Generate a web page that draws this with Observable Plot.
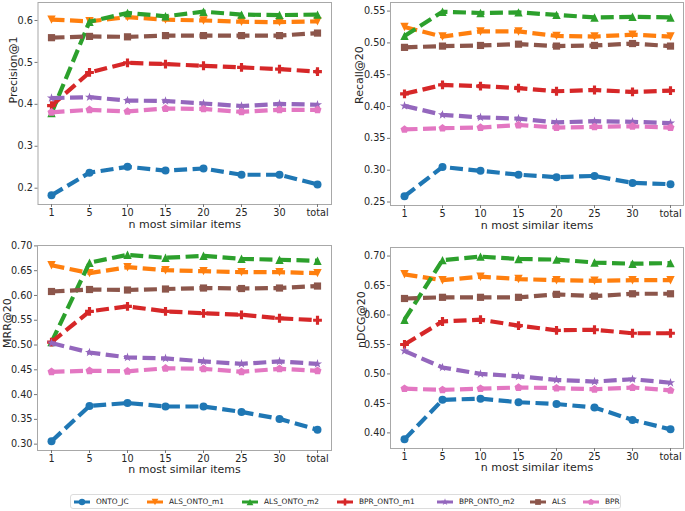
<!DOCTYPE html>
<html>
<head>
<meta charset="utf-8">
<script src="https://cdn.jsdelivr.net/npm/d3@7"></script>
<script src="https://cdn.jsdelivr.net/npm/@observablehq/plot@0.6"></script>
<style>
  html, body { margin: 0; padding: 0; background: #fff; }
  #wrap { position: relative; width: 685px; height: 511px; overflow: hidden; font-family: "DejaVu Sans", sans-serif; }
  .panel { position: absolute; }
  #legend { position: absolute; left: 70px; top: 494px; width: 551px; height: 15px; border: 1px solid #dcdcdc; border-radius: 3px; box-sizing: border-box; }
  .item { position: absolute; top: 0; height: 13px; display: flex; align-items: center; font-size: 7.4px; color: #222; white-space: nowrap; }
  .item svg { margin-right: 6px; }
</style>
</head>
<body>
<div id="wrap"></div>
<script>
// ---- data -------------------------------------------------------------
const categories = ["1", "5", "10", "15", "20", "25", "30", "total"];
const seriesNames = ["ONTO_JC", "ALS_ONTO_m1", "ALS_ONTO_m2", "BPR_ONTO_m1", "BPR_ONTO_m2", "ALS", "BPR"];
const seriesColors = ["#1f77b4", "#ff7f0e", "#2ca02c", "#d62728", "#9467bd", "#8c564b", "#e377c2"];

// rows follow seriesNames order, columns follow categories
const precisionAt1 = [
  [0.183, 0.237, 0.251, 0.242, 0.247, 0.232, 0.232, 0.209],
  [0.602, 0.598, 0.608, 0.602, 0.600, 0.597, 0.596, 0.598],
  [0.379, 0.597, 0.618, 0.610, 0.621, 0.614, 0.613, 0.614],
  [0.397, 0.476, 0.499, 0.496, 0.492, 0.488, 0.484, 0.478],
  [0.415, 0.417, 0.409, 0.408, 0.402, 0.396, 0.401, 0.399],
  [0.559, 0.562, 0.561, 0.564, 0.564, 0.564, 0.564, 0.570],
  [0.381, 0.387, 0.383, 0.390, 0.389, 0.382, 0.387, 0.387]
];
const recallAt20 = [
  [0.259, 0.305, 0.299, 0.293, 0.289, 0.291, 0.280, 0.278],
  [0.525, 0.510, 0.518, 0.518, 0.511, 0.510, 0.513, 0.510],
  [0.511, 0.549, 0.547, 0.548, 0.544, 0.540, 0.541, 0.540],
  [0.420, 0.434, 0.432, 0.429, 0.424, 0.426, 0.423, 0.425],
  [0.401, 0.387, 0.383, 0.381, 0.375, 0.377, 0.376, 0.374],
  [0.493, 0.495, 0.496, 0.498, 0.495, 0.496, 0.499, 0.495],
  [0.364, 0.366, 0.367, 0.371, 0.367, 0.368, 0.369, 0.367]
];
const mrrAt20 = [
  [0.306, 0.377, 0.383, 0.376, 0.376, 0.365, 0.351, 0.329],
  [0.661, 0.645, 0.657, 0.651, 0.649, 0.647, 0.647, 0.645],
  [0.506, 0.666, 0.682, 0.676, 0.680, 0.674, 0.672, 0.670],
  [0.506, 0.568, 0.578, 0.568, 0.564, 0.561, 0.554, 0.550],
  [0.504, 0.485, 0.475, 0.473, 0.467, 0.462, 0.467, 0.462],
  [0.608, 0.612, 0.611, 0.613, 0.615, 0.614, 0.615, 0.619],
  [0.446, 0.448, 0.447, 0.453, 0.452, 0.446, 0.452, 0.448]
];
const ndcgAt20 = [
  [0.389, 0.456, 0.458, 0.452, 0.449, 0.443, 0.422, 0.406],
  [0.669, 0.659, 0.665, 0.661, 0.659, 0.658, 0.659, 0.659],
  [0.592, 0.693, 0.699, 0.695, 0.694, 0.689, 0.687, 0.688],
  [0.550, 0.589, 0.592, 0.582, 0.574, 0.575, 0.569, 0.569],
  [0.539, 0.511, 0.500, 0.496, 0.490, 0.487, 0.491, 0.485],
  [0.628, 0.630, 0.630, 0.630, 0.635, 0.632, 0.636, 0.636],
  [0.475, 0.473, 0.475, 0.477, 0.476, 0.474, 0.477, 0.472]
];

const precisionTicks = [0.2, 0.3, 0.4, 0.5, 0.6];
const recallTicks = [0.25, 0.30, 0.35, 0.40, 0.45, 0.50, 0.55];
const mrrTicks = [0.30, 0.35, 0.40, 0.45, 0.50, 0.55, 0.60, 0.65, 0.70];
const ndcgTicks = [0.40, 0.45, 0.50, 0.55, 0.60, 0.65, 0.70];

const xLabel = "n most similar items";

// ---- marker shapes (matplotlib-like) ---------------------------------
function poly(ctx, pts) {
  ctx.moveTo(pts[0][0], pts[0][1]);
  for (let i = 1; i < pts.length; ++i) ctx.lineTo(pts[i][0], pts[i][1]);
  ctx.closePath();
}
const symCircle = { draw(ctx, size) { const r = Math.sqrt(size / Math.PI); ctx.moveTo(r, 0); ctx.arc(0, 0, r, 0, 2 * Math.PI); } };
const symTriDown = { draw(ctx, size) { const r = Math.sqrt(size / Math.PI) * 1.05; poly(ctx, [[0, r], [-r, -r], [r, -r]]); } };
const symTriUp = { draw(ctx, size) { const r = Math.sqrt(size / Math.PI) * 1.05; poly(ctx, [[0, -r], [-r, r], [r, r]]); } };
const symPlus = { draw(ctx, size) {
  const r = Math.sqrt(size / Math.PI) * 1.1, w = r * 0.36;
  poly(ctx, [[-w, -r], [w, -r], [w, -w], [r, -w], [r, w], [w, w], [w, r], [-w, r], [-w, w], [-r, w], [-r, -w], [-w, -w]]);
} };
const symStar = { draw(ctx, size) {
  const R = Math.sqrt(size / Math.PI) * 1.2, ri = R * 0.381966;
  const pts = [];
  for (let i = 0; i < 10; ++i) { const a = -Math.PI / 2 + i * Math.PI / 5; const rr = i % 2 ? ri : R; pts.push([rr * Math.cos(a), rr * Math.sin(a)]); }
  poly(ctx, pts);
} };
const symSquare = { draw(ctx, size) { const h = Math.sqrt(size / Math.PI) * 0.9; poly(ctx, [[-h, -h], [h, -h], [h, h], [-h, h]]); } };
const symPentagon = { draw(ctx, size) {
  const R = Math.sqrt(size / Math.PI) * 1.05; const pts = [];
  for (let i = 0; i < 5; ++i) { const a = -Math.PI / 2 + i * 2 * Math.PI / 5; pts.push([R * Math.cos(a), R * Math.sin(a)]); }
  poly(ctx, pts);
} };
const seriesSymbols = [symCircle, symTriDown, symTriUp, symPlus, symStar, symSquare, symPentagon];

// ---- panel builder ------------------------------------------------------
function buildPanel(rows, opts) {
  const all = rows.flat();
  const ext = d3.extent(all);
  const pad = (ext[1] - ext[0]) * 0.05;
  const marks = [
    Plot.frame({ stroke: "#a8a8a8", strokeWidth: 1 }),
    Plot.axisX({ tickSize: 3, tickPadding: 1.5, stroke: "#777", fill: "#262626", label: null }),
    Plot.axisY({ ticks: opts.ticks, tickFormat: d3.format(opts.fmt), tickSize: 3, tickPadding: 2, stroke: "#777", fill: "#262626", label: null })
  ];
  seriesNames.forEach((name, i) => {
    const data = rows[i].map((v, j) => ({ cat: categories[j], value: v }));
    marks.push(Plot.line(data, { x: "cat", y: "value", stroke: seriesColors[i], strokeWidth: 4.2, strokeDasharray: "13,5.5", strokeLinecap: "butt" }));
    marks.push(Plot.dot(data, { x: "cat", y: "value", fill: seriesColors[i], stroke: "none", symbol: seriesSymbols[i], r: 4 }));
  });
  marks.push(Plot.text([xLabel], { frameAnchor: "bottom", dy: opts.xdy, fontSize: 11, fill: "#262626" }));
  marks.push(Plot.text([opts.label], { frameAnchor: "left", rotate: -90, dx: opts.ydx, fontSize: 11, fill: "#262626" }));
  const svg = Plot.plot({
    width: opts.w, height: opts.h,
    marginLeft: opts.mL, marginRight: opts.mR, marginTop: opts.mT, marginBottom: opts.mB,
    style: { fontFamily: "DejaVu Sans, sans-serif", fontSize: "9.7px", background: "transparent", color: "#262626" },
    x: { type: "point", domain: categories, padding: 0.35 },
    y: { domain: [ext[0] - pad, ext[1] + pad] },
    marks
  });
  svg.classList.add("panel");
  svg.style.left = opts.left + "px";
  svg.style.top = opts.top + "px";
  return svg;
}

const wrap = document.getElementById("wrap");
wrap.appendChild(buildPanel(precisionAt1, { label: "Precision@1", ticks: precisionTicks, fmt: ".1f", left: 0, top: 0, w: 340, h: 235, mL: 37.5, mR: 9, mT: 2, mB: 31, xdy: 23, ydx: -25 }));
wrap.appendChild(buildPanel(recallAt20, { label: "Recall@20", ticks: recallTicks, fmt: ".2f", left: 345, top: 0, w: 340, h: 235, mL: 45, mR: 2, mT: 2, mB: 30, xdy: 23, ydx: -31 }));
wrap.appendChild(buildPanel(mrrAt20, { label: "MRR@20", ticks: mrrTicks, fmt: ".2f", left: 0, top: 235, w: 340, h: 250, mL: 37, mR: 9, mT: 10, mB: 35, xdy: 22, ydx: -30 }));
wrap.appendChild(buildPanel(ndcgAt20, { label: "nDCG@20", ticks: ndcgTicks, fmt: ".2f", left: 345, top: 235, w: 340, h: 250, mL: 45, mR: 2, mT: 12, mB: 37, xdy: 22, ydx: -29 }));

// ---- legend -------------------------------------------------------------
const legend = document.createElement("div");
legend.id = "legend";
const itemLefts = [3, 76, 171, 266, 366, 459, 512];
seriesNames.forEach((name, i) => {
  const item = document.createElement("div");
  item.className = "item";
  item.style.left = itemLefts[i] + "px";
  const sw = d3.create("svg").attr("width", 16).attr("height", 10);
  sw.append("line").attr("x1", 0).attr("x2", 16).attr("y1", 5).attr("y2", 5).attr("stroke", seriesColors[i]).attr("stroke-width", 3);
  sw.append("path").attr("transform", "translate(8,5)").attr("fill", seriesColors[i])
    .attr("d", d3.symbol(seriesSymbols[i], Math.PI * 3.2 * 3.2)());
  item.appendChild(sw.node());
  const t = document.createElement("span");
  t.textContent = name;
  item.appendChild(t);
  legend.appendChild(item);
});
wrap.appendChild(legend);
</script>
</body>
</html>
